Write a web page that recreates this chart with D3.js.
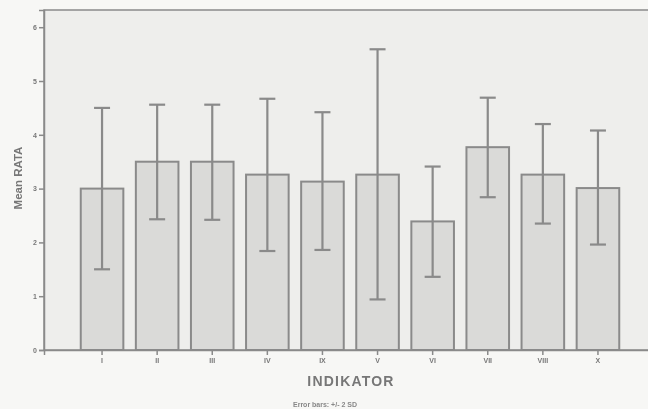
<!DOCTYPE html>
<html>
<head>
<meta charset="utf-8">
<script src="https://cdn.jsdelivr.net/npm/d3@7"></script>
<style>
  html, body { margin: 0; padding: 0; background: #f7f7f5; }
  svg { display: block; font-family: "Liberation Sans", Arial, sans-serif; will-change: transform; }
</style>
</head>
<body>
<div id="chart"></div>
<script>
// Mean RATA per indicator, error bars +/- 2 SD (SPSS style bar chart)
const categories = ["I", "II", "III", "IV", "IX", "V", "VI", "VII", "VIII", "X"];
const means = [3.00, 3.50, 3.50, 3.26, 3.13, 3.26, 2.39, 3.77, 3.26, 3.01];
const errHigh = [4.50, 4.56, 4.56, 4.67, 4.42, 5.59, 3.41, 4.69, 4.20, 4.08];
const errLow = [1.50, 2.43, 2.42, 1.84, 1.86, 0.94, 1.36, 2.84, 2.35, 1.96];
const yTicks = [0, 1, 2, 3, 4, 5, 6];

const W = 648, H = 409;
const margin = { left: 44, top: 10, right: -8, bottom: 59 };
const plotW = W - margin.left - margin.right;
const plotH = H - margin.top - margin.bottom;

const GRAY = "#8a8a8a";

const svg = d3.select("#chart").append("svg")
  .attr("width", W).attr("height", H);

const g = svg.append("g").attr("transform", `translate(${margin.left},${margin.top})`);

const x = d3.scaleBand().domain(categories).range([0, plotW])
  .paddingInner(0.227).paddingOuter(0.667);
const y = d3.scaleLinear().domain([0, 6.32]).range([plotH, 0]);

// plot area
g.append("rect")
  .attr("width", plotW).attr("height", plotH)
  .attr("fill", "#eeeeec")
  .attr("stroke", GRAY).attr("stroke-width", 1.5);

const data = categories.map((c, i) => ({ c, m: means[i], hi: errHigh[i], lo: errLow[i] }));

// bars
g.selectAll("rect.bar").data(data).enter().append("rect")
  .attr("class", "bar")
  .attr("x", d => x(d.c))
  .attr("y", d => y(d.m))
  .attr("width", x.bandwidth())
  .attr("height", d => y(0) - y(d.m))
  .attr("fill", "#dadad8")
  .attr("stroke", GRAY).attr("stroke-width", 2);

// error bars
const eb = g.selectAll("g.err").data(data).enter().append("g")
  .attr("class", "err")
  .attr("transform", d => `translate(${x(d.c) + x.bandwidth() / 2},0)`)
  .attr("stroke", GRAY).attr("stroke-width", 2.2);
eb.append("line").attr("y1", d => y(d.hi)).attr("y2", d => y(d.lo));
eb.append("line").attr("x1", -8).attr("x2", 8).attr("y1", d => y(d.hi)).attr("y2", d => y(d.hi));
eb.append("line").attr("x1", -8).attr("x2", 8).attr("y1", d => y(d.lo)).attr("y2", d => y(d.lo));

// axes
const yAxis = g.append("g")
  .call(d3.axisLeft(y).tickValues(yTicks).tickSize(5).tickPadding(2).tickFormat(d3.format("d")));
const xAxis = g.append("g").attr("transform", `translate(0,${plotH})`)
  .call(d3.axisBottom(x).tickSize(5).tickPadding(3));
[yAxis, xAxis].forEach(a => {
  a.select(".domain").attr("stroke", GRAY).attr("stroke-width", 1.5);
  a.selectAll(".tick line").attr("stroke", GRAY).attr("stroke-width", 1.5);
  a.selectAll(".tick text").attr("fill", "#777").attr("font-size", 7).attr("font-weight", "bold");
});

// titles
svg.append("text")
  .attr("transform", `translate(22,${margin.top + plotH / 2 - 2}) rotate(-90)`)
  .attr("text-anchor", "middle")
  .attr("font-size", 11.5).attr("font-weight", "bold")
  .attr("fill", "#777")
  .text("Mean RATA");

svg.append("text")
  .attr("x", 351).attr("y", 386)
  .attr("text-anchor", "middle")
  .attr("font-size", 14).attr("font-weight", "bold")
  .attr("letter-spacing", 1.2)
  .attr("fill", "#777")
  .text("INDIKATOR");

svg.append("text")
  .attr("x", 325).attr("y", 407)
  .attr("text-anchor", "middle")
  .attr("font-size", 7).attr("font-weight", "bold")
  .attr("fill", "#888")
  .text("Error bars: +/- 2 SD");
</script>
</body>
</html>
